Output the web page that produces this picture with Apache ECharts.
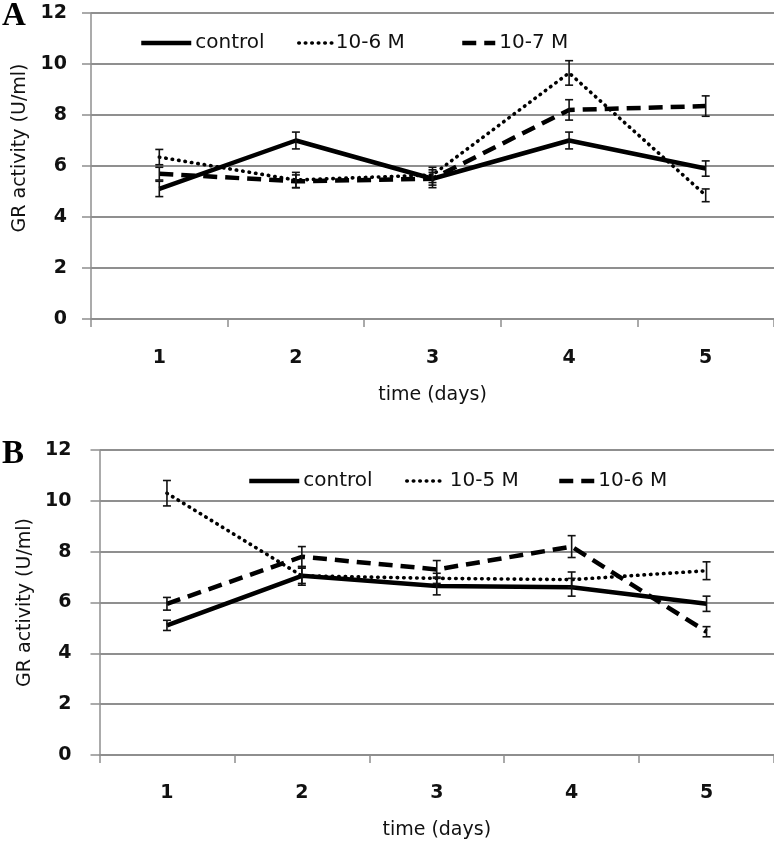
<!DOCTYPE html>
<html><head><meta charset="utf-8">
<script src="https://cdn.jsdelivr.net/npm/echarts@6/dist/echarts.min.js"></script>
<style>html,body{margin:0;padding:0;background:#fff}#c{width:774px;height:844px}</style>
</head><body><div id="c"></div>
<script>
// ---- data ----
const days = ['1', '2', '3', '4', '5'];
const yMin = 0, yMax = 12, yStep = 2;

// Panel A
const aNames = ['control', '10-6 M', '10-7 M'];
const aControl = [5.1, 7.0, 5.5, 7.0, 5.9];
const aControlErr = [0.3, 0.33, 0.35, 0.33, 0.3];
const aM6 = [6.35, 5.45, 5.65, 9.65, 4.85];
const aM6Err = [0.3, 0.3, 0.3, 0.48, 0.25];
const aM7 = [5.7, 5.4, 5.5, 8.2, 8.35];
const aM7Err = [0.25, 0.25, 0.25, 0.4, 0.4];

// Panel B
const bNames = ['control', '10-5 M', '10-6 M'];
const bControl = [5.1, 7.05, 6.65, 6.6, 5.95];
const bControlErr = [0.2, 0.37, 0.35, 0.35, 0.3];
const bM5 = [10.3, 7.05, 6.95, 6.9, 7.25];
const bM5Err = [0.5, 0.3, 0.2, 0.3, 0.35];
const bM6 = [5.95, 7.8, 7.3, 8.2, 4.85];
const bM6Err = [0.25, 0.4, 0.35, 0.43, 0.2];

const yTitle = 'GR activity (U/ml)';
const xTitle = 'time (days)';

// ---- chart ----
const FONT = 'DejaVu Sans';
const GRID_C = '#8f8f8f';
const chart = echarts.init(document.getElementById('c'));

const styles = {
  solid: { color: '#000', width: 4.5, type: 'solid' },
  dotted: { color: '#000', width: 3.6, type: [0.5, 6], cap: 'round' },
  dashed: { color: '#000', width: 4.5, type: [14, 8] }
};

function lineSeries(panel, name, data, style, gi) {
  return {
    type: 'line', name: panel + '|' + name, xAxisIndex: gi, yAxisIndex: gi,
    data: data, symbol: 'none', lineStyle: style, z: 3, silent: true,
    itemStyle: { color: '#000' }
  };
}
function errSeries(panel, name, means, errs, gi) {
  return {
    type: 'custom', name: panel + '|' + name + '|err', xAxisIndex: gi, yAxisIndex: gi,
    data: means.map((m, i) => [i, m - errs[i], m + errs[i]]),
    encode: { x: 0, y: [1, 2] }, silent: true, z: 5,
    renderItem: function (params, api) {
      const x = api.value(0);
      const lo = api.coord([x, api.value(1)]);
      const hi = api.coord([x, api.value(2)]);
      const w = 4;
      const st = { stroke: '#111', lineWidth: 1.6 };
      return {
        type: 'group', children: [
          { type: 'line', shape: { x1: lo[0], y1: lo[1], x2: hi[0], y2: hi[1] }, style: st },
          { type: 'line', shape: { x1: lo[0] - w, y1: lo[1], x2: lo[0] + w, y2: lo[1] }, style: st },
          { type: 'line', shape: { x1: hi[0] - w, y1: hi[1], x2: hi[0] + w, y2: hi[1] }, style: st }
        ]
      };
    }
  };
}

function xAxisCfg(gi, margin, gap) {
  return {
    type: 'category', gridIndex: gi, data: days, boundaryGap: true,
    axisLine: { lineStyle: { color: GRID_C, width: 1.5 } },
    axisTick: { show: true, length: 8, lineStyle: { color: GRID_C, width: 1.5 } },
    axisLabel: { color: '#111', fontFamily: FONT, fontWeight: 'bold', fontSize: 19, margin: margin },
    name: xTitle, nameLocation: 'middle', nameGap: gap,
    nameTextStyle: { color: '#111', fontFamily: FONT, fontSize: 19 }
  };
}
function yAxisCfg(gi, margin, gap, pad) {
  return {
    type: 'value', gridIndex: gi, min: yMin, max: yMax, interval: yStep,
    axisLine: { show: true, lineStyle: { color: GRID_C, width: 1.5 } },
    axisTick: { show: true, length: 9, lineStyle: { color: GRID_C, width: 1.5 } },
    splitLine: { show: true, lineStyle: { color: GRID_C, width: 1.8 } },
    axisLabel: { color: '#111', fontFamily: FONT, fontWeight: 'bold', fontSize: 19, margin: margin },
    name: yTitle, nameLocation: 'middle', nameGap: gap, nameRotate: 90,
    nameTextStyle: { color: '#111', fontFamily: FONT, fontSize: 19, padding: pad }
  };
}

function legendItem(panel, name, left, top, w, lw) {
  return {
    data: [panel + '|' + name], left: left, top: top, itemWidth: w, itemHeight: 14,
    selectedMode: false, formatter: n => n.split('|')[1],
    itemStyle: { color: 'rgba(0,0,0,0)', borderColor: 'rgba(0,0,0,0)', borderWidth: 0, opacity: 0 },
    lineStyle: { width: lw },
    textStyle: { color: '#111', fontFamily: FONT, fontSize: 20, padding: [0, 0, 0, -1] }
  };
}

const option = {
  animation: false,
  backgroundColor: '#fff',
  grid: [
    { left: 91, right: -2, top: 13, height: 306 },
    { left: 99.5, right: -17, top: 450, height: 305 }
  ],
  xAxis: [xAxisCfg(0, 30, 67), xAxisCfg(1, 29, 66)],
  yAxis: [yAxisCfg(0, 24, 57, [0, 0, 0, 36]), yAxisCfg(1, 28, 64, 0)],
  legend: [
    legendItem('A', aNames[0], 134, 28, 50, 4.5),
    legendItem('A', aNames[1], 292, 28, 33, 3.6),
    legendItem('A', aNames[2], 455, 28, 33, 4.5),
    legendItem('B', bNames[0], 242, 466, 50, 4.5),
    legendItem('B', bNames[1], 400, 466, 39, 3.6),
    legendItem('B', bNames[2], 552, 466, 35, 4.5)
  ],
  graphic: [
    { type: 'text', left: 2, top: 0, style: { text: 'A', font: 'bold 33px "Liberation Serif"', fill: '#000' } },
    { type: 'text', left: 2, top: 438, style: { text: 'B', font: 'bold 33px "Liberation Serif"', fill: '#000' } }
  ],
  series: [
    lineSeries('A', aNames[0], aControl, styles.solid, 0),
    lineSeries('A', aNames[1], aM6, styles.dotted, 0),
    lineSeries('A', aNames[2], aM7, styles.dashed, 0),
    errSeries('A', aNames[0], aControl, aControlErr, 0),
    errSeries('A', aNames[1], aM6, aM6Err, 0),
    errSeries('A', aNames[2], aM7, aM7Err, 0),
    lineSeries('B', bNames[0], bControl, styles.solid, 1),
    lineSeries('B', bNames[1], bM5, styles.dotted, 1),
    lineSeries('B', bNames[2], bM6, styles.dashed, 1),
    errSeries('B', bNames[0], bControl, bControlErr, 1),
    errSeries('B', bNames[1], bM5, bM5Err, 1),
    errSeries('B', bNames[2], bM6, bM6Err, 1)
  ]
};
chart.setOption(option);
</script>
</body></html>
